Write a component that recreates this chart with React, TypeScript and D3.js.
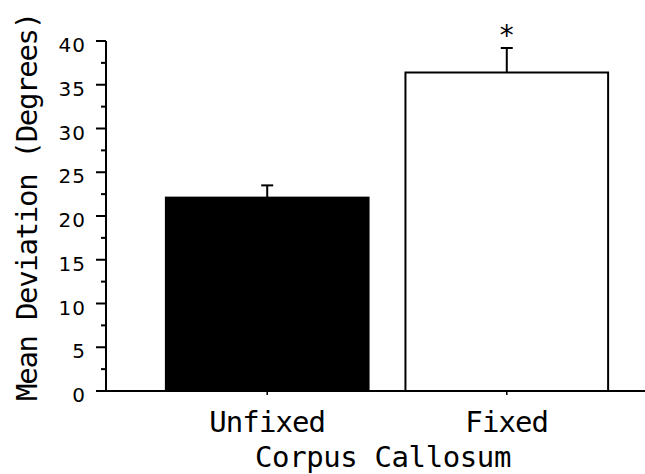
import React from "react";
import * as d3 from "d3";

const categories = ["Unfixed", "Fixed"];
const means = [22.1, 36.4];
const errors = [1.4, 2.8];
const fills = ["#000000", "#ffffff"];
const significance = ["", "*"];
const yTicks = [0, 5, 10, 15, 20, 25, 30, 35, 40];
const yMinorTicks = [2.5, 7.5, 12.5, 17.5, 22.5, 27.5, 32.5, 37.5];
const yLabel = "Mean Deviation (Degrees)";
const xLabel = "Corpus Callosum";

const W = 645;
const H = 474;

export default function App() {
  const y = d3.scaleLinear().domain([0, 40]).range([391, 41]);
  const x = d3
    .scaleBand<string>()
    .domain(categories)
    .range([106, 668])
    .paddingInner(0.154)
    .paddingOuter(0.25);
  const axisX = 106;
  const mono = "'DejaVu Sans Mono', monospace";
  const sans = "'DejaVu Sans', sans-serif";
  return (
    <svg
      width={W}
      height={H}
      style={{ position: "absolute", left: 0, top: 0, background: "#fff" }}
    >
      {categories.map((c, i) => {
        const bx = x(c)!;
        const bw = x.bandwidth();
        const cx = bx + bw / 2;
        const top = y(means[i]);
        const et = y(means[i] + errors[i]);
        return (
          <g key={c}>
            <line x1={cx} x2={cx} y1={top} y2={et} stroke="#000" strokeWidth={2} />
            <line x1={cx - 6} x2={cx + 6} y1={et} y2={et} stroke="#000" strokeWidth={2} />
            <rect
              x={bx}
              y={top}
              width={bw}
              height={y(0) - top}
              fill={fills[i]}
              stroke="#000"
              strokeWidth={2}
            />
            {significance[i] && (
              <text
                x={cx}
                y={et - 3}
                textAnchor="middle"
                fontFamily={mono}
                fontSize={28}
                fill="#000"
              >
                {significance[i]}
              </text>
            )}
            <line x1={cx} x2={cx} y1={y(0)} y2={y(0) + 4} stroke="#000" strokeWidth={1.5} />
            <text
              x={cx}
              y={432}
              textAnchor="middle"
              fontFamily={mono}
              fontSize={29}
              letterSpacing={-0.9}
              fill="#000"
            >
              {c}
            </text>
          </g>
        );
      })}
      <line x1={axisX} x2={axisX} y1={y(40)} y2={y(0)} stroke="#000" strokeWidth={2} />
      <line x1={axisX} x2={W} y1={y(0)} y2={y(0)} stroke="#000" strokeWidth={2} />
      {yTicks.map((t) => (
        <g key={t}>
          <line x1={axisX - 10} x2={axisX} y1={y(t)} y2={y(t)} stroke="#000" strokeWidth={2} />
          <text
            x={86}
            y={y(t) + 11}
            textAnchor="end"
            fontFamily={sans}
            fontSize={20}
            letterSpacing={1}
            fill="#000"
          >
            {t}
          </text>
        </g>
      ))}
      {yMinorTicks.map((t) => (
        <line key={t} x1={axisX - 5} x2={axisX} y1={y(t)} y2={y(t)} stroke="#000" strokeWidth={2} />
      ))}
      <text
        transform={`translate(37,207) rotate(-90)`}
        textAnchor="middle"
        fontFamily={mono}
        fontSize={29}
        letterSpacing={-1.3}
        fill="#000"
      >
        {yLabel}
      </text>
      <text
        x={383}
        y={467}
        textAnchor="middle"
        fontFamily={mono}
        fontSize={29}
        letterSpacing={-0.4}
        fill="#000"
      >
        {xLabel}
      </text>
    </svg>
  );
}
